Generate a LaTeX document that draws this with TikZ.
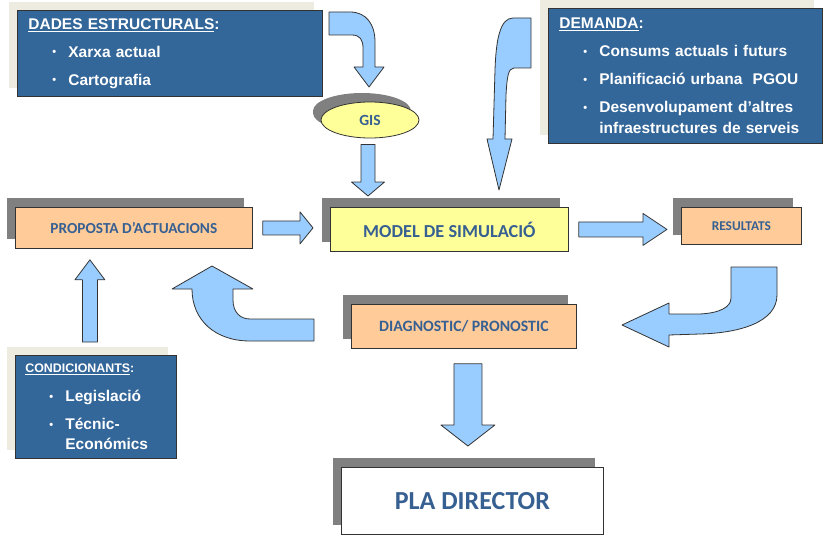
\documentclass[tikz,border=0pt]{standalone}
\usepackage{fontspec}
\setmainfont{Liberation Sans}
\newfontfamily\calibri{Carlito}
\usetikzlibrary{shadows}
\usetikzlibrary{calc,positioning}
\usetikzlibrary{shapes.geometric}

\definecolor{boxblue}{RGB}{51,102,153}
\definecolor{boxbeige}{RGB}{238,236,225}
\definecolor{shadowgray}{RGB}{128,128,128}
\definecolor{orangefill}{RGB}{255,204,153}
\definecolor{yellowfill}{RGB}{255,255,153}
\definecolor{arrowfill}{RGB}{153,204,255}
\definecolor{textblue}{RGB}{55,96,146}

\newcommand{\blt}{\hspace*{24pt}\makebox[16pt][l]{\raisebox{1.5pt}{\fontsize{11}{11}\selectfont\textbullet}}}
\newcommand{\cnt}{\hspace*{40pt}}
\newcommand{\uln}[1]{\setbox0\hbox{#1}\rlap{\rule[-2.5pt]{\wd0}{1pt}}\box0}
% straight block arrow: from, to, half shaft, half head, head length
\newcommand{\blockarrow}[5]{%
  \coordinate (ba-s) at (#1);
  \coordinate (ba-e) at (#2);
  \coordinate (ba-b) at ($(ba-e)!#5!(ba-s)$);
  \draw[blockarr] ($(ba-s)!#3!90:(ba-e)$) -- ($(ba-b)!#3!-90:(ba-s)$)
    -- ($(ba-b)!#4!-90:(ba-s)$) -- (ba-e) -- ($(ba-b)!#4!90:(ba-s)$)
    -- ($(ba-b)!#3!90:(ba-s)$) -- ($(ba-s)!#3!-90:(ba-e)$) -- cycle;
}

\begin{document}
\begin{tikzpicture}[x=1pt, y=-1pt,
    bluebox/.style={draw=black!80, line width=0.8pt, fill=boxblue, text=white,
      anchor=north west, align=left, inner ysep=0pt,
      font=\bfseries\fontsize{15.5}{21}\selectfont,
      drop shadow={shadow xshift=-8pt, shadow yshift=8pt, fill=boxbeige, opacity=1}},
    stepbox/.style={draw=black!80, line width=0.8pt, anchor=north west, inner sep=0pt,
      text=textblue,
      drop shadow={shadow xshift=-8pt, shadow yshift=9pt, fill=shadowgray, opacity=1}},
    blockarr/.style={draw=black!80, line width=0.8pt, fill=arrowfill, line join=round}]

    \useasboundingbox (0,0) rectangle (823,535);

    \node[bluebox, text width=283pt, inner xsep=11pt, minimum height=86pt] (dades) at (17,10)
      {\uln{DADES ESTRUCTURALS}:\\[7pt]\blt Xarxa actual\\[7pt]\blt Cartografia};
    \node[bluebox, text width=252pt, inner xsep=11pt, minimum height=135pt] (demanda) at (548,8)
      {\uln{DEMANDA}:\\[7pt]\blt Consums actuals i futurs\\[7pt]\blt Planificació urbana~ PGOU\\[7pt]\blt Desenvolupament d’altres\\\cnt infraestructures de serveis};
    \node[bluebox, text width=141pt, inner xsep=10pt, minimum height=103pt,
      font=\bfseries\fontsize{15.5}{20}\selectfont] (cond) at (15,355)
      {{\fontsize{12.4}{15}\selectfont\uln{CONDICIONANTS}:}\\[9pt]\blt Legislació\\[8pt]\blt Técnic-\\\cnt Económics};

    \node[stepbox, fill=orangefill, minimum width=237pt, minimum height=41pt,
      font=\calibri\bfseries\fontsize{15.3}{18}\selectfont] (prop) at (15,207) {PROPOSTA D’ACTUACIONS};
    \node[stepbox, fill=yellowfill, minimum width=238pt, minimum height=44pt,
      font=\calibri\bfseries\fontsize{18.3}{22}\selectfont] (model) at (330,207) {MODEL DE SIMULACIÓ};
    \node[stepbox, fill=orangefill, minimum width=120pt, minimum height=37pt,
      font=\calibri\bfseries\fontsize{13.4}{16}\selectfont] (res) at (681,207) {RESULTATS};
    \node[stepbox, fill=orangefill, minimum width=225pt, minimum height=44pt,
      font=\calibri\bfseries\fontsize{15.8}{19}\selectfont] (diag) at (351,304) {DIAGNOSTIC/ PRONOSTIC};
    \node[stepbox, fill=white, minimum width=262pt, minimum height=67pt,
      font=\calibri\bfseries\fontsize{26}{30}\selectfont] (pla) at (341,467) {PLA DIRECTOR};
    \node[stepbox, ellipse, anchor=center, fill=yellowfill, minimum width=98pt, minimum height=36pt,
      drop shadow={shadow xshift=-8pt, shadow yshift=7pt, fill=shadowgray, opacity=1},
      font=\calibri\bfseries\fontsize{15.5}{18}\selectfont] (gis) at (370,120) {GIS};

    \blockarrow{$(gis.south)+(-2,6)$}{$(gis.south |- model.north)+(-2,-11)$}{7pt}{16.5pt}{14pt}
    \blockarrow{$(prop.east)+(10,0)$}{$(prop.east -| model.west)+(-17,0)$}{7pt}{16pt}{13pt}
    \blockarrow{$(model.east)+(10,0)$}{$(model.east -| res.west)+(-14,0)$}{7.5pt}{16pt}{24pt}
    \blockarrow{$(cond.north)+(-6,-13)$}{$(cond.north |- prop.south)+(-6,11)$}{7.5pt}{15pt}{20pt}
    \blockarrow{$(diag.south)+(4,15)$}{$(diag.south |- pla.north)+(4,-21)$}{14pt}{27pt}{21pt}

    \draw[blockarr] (329,12) -- (350,12) .. controls (366,12) and (375,24) .. (375,42)
      -- (375,67) -- (384,67) -- (369,87) -- (354,67) -- (363,67) -- (363,48)
      .. controls (363,40) and (360,35) .. (352,35) -- (329,35) -- cycle;
    \draw[blockarr] (531,18) -- (513,18) .. controls (500,18) and (496,40) .. (495,70)
      -- (493,139) -- (487,139) -- (499,190) -- (512,139) -- (505,139) -- (506,95)
      .. controls (507,78) and (508,68) .. (514,68) -- (531,68) -- cycle;
    \draw[blockarr] (314,319) -- (250,319) .. controls (240,319) and (233,312) .. (233,300)
      -- (233,289) -- (253,289) -- (212,266) -- (172,289) -- (192,289)
      .. controls (192,320) and (215,341) .. (250,341) -- (314,341) -- cycle;
    \draw[blockarr] (731,267) -- (777,267) -- (777,295) .. controls (777,322) and (740,333) .. (700,334)
      -- (669,335) -- (669,347) -- (622,325) -- (669,303) -- (669,314) -- (700,314)
      .. controls (720,313) and (731,307) .. (731,298) -- cycle;

\end{tikzpicture}
\end{document}
